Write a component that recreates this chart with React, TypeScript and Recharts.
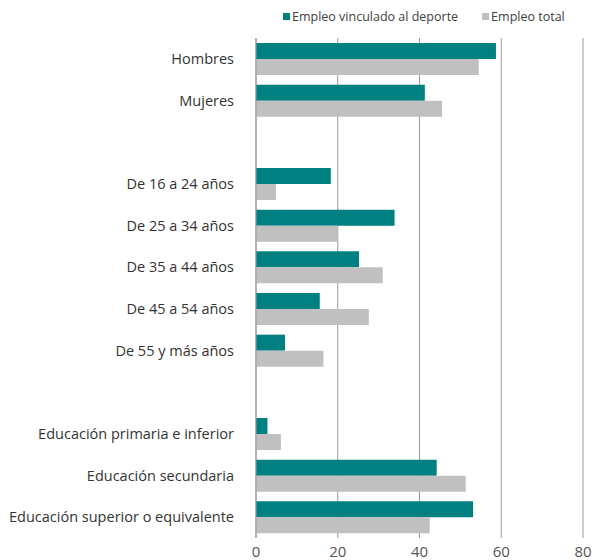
import React from "react";
import { BarChart, Bar, XAxis, YAxis, CartesianGrid } from "recharts";

const categories = [
  "Hombres",
  "Mujeres",
  "",
  "De 16 a 24 años",
  "De 25 a 34 años",
  "De 35 a 44 años",
  "De 45 a 54 años",
  "De 55 y más años",
  " ",
  "Educación primaria e inferior",
  "Educación secundaria",
  "Educación superior o equivalente",
];
const deporte = [58.7, 41.3, null, 18.3, 33.9, 25.2, 15.6, 7.1, null, 2.8, 44.2, 53.1];
const total = [54.5, 45.5, null, 4.9, 20.0, 31.0, 27.6, 16.5, null, 6.1, 51.3, 42.5];
const xTicks = [0, 20, 40, 60, 80];

const TEAL = "#008080";
const GRAY = "#c0c0c0";
const FONT = "'Open Sans', sans-serif";

const data = categories.map((name, i) => ({
  name,
  deporte: deporte[i],
  total: total[i],
}));

function ChartLegend() {
  const items = [
    { label: "Empleo vinculado al deporte", color: TEAL },
    { label: "Empleo total", color: GRAY },
  ];
  return (
    <div
      style={{
        position: "absolute",
        top: 8,
        left: 283,
        display: "flex",
        fontFamily: FONT,
        fontSize: 12.5,
        color: "#404040",
        whiteSpace: "nowrap",
      }}
    >
      {items.map((it) => (
        <div key={it.label} style={{ display: "flex", alignItems: "center", marginRight: 24 }}>
          <span style={{ width: 7, height: 7, background: it.color, display: "inline-block", marginRight: 2 }} />
          <span>{it.label}</span>
        </div>
      ))}
    </div>
  );
}

export default function App() {
  return (
    <div style={{ position: "absolute", left: 0, top: 0, width: 592, height: 560, background: "#fff" }}>
      <BarChart
        width={592}
        height={560}
        data={data}
        layout="vertical"
        margin={{ top: 38, right: 9, bottom: 0, left: 0 }}
        barGap={0}
        barSize={16}
      >
        <CartesianGrid horizontal={false} vertical stroke="#999" />
        <XAxis
          type="number"
          domain={[0, 80]}
          ticks={xTicks}
          axisLine={false}
          tickLine={false}
          height={22}
          tick={{ fontSize: 15, fill: "#555", fontFamily: FONT }}
          interval={0}
        />
        <YAxis
          type="category"
          dataKey="name"
          width={256}
          axisLine={{ stroke: "#999" }}
          tickLine={false}
          tickSize={0}
          tickMargin={22}
          interval={0}
          tick={{ fontSize: 14.5, fill: "#333", fontFamily: FONT }}
        />
        <Bar dataKey="deporte" fill={TEAL} isAnimationActive={false} />
        <Bar dataKey="total" fill={GRAY} isAnimationActive={false} />
      </BarChart>
      <ChartLegend />
    </div>
  );
}
